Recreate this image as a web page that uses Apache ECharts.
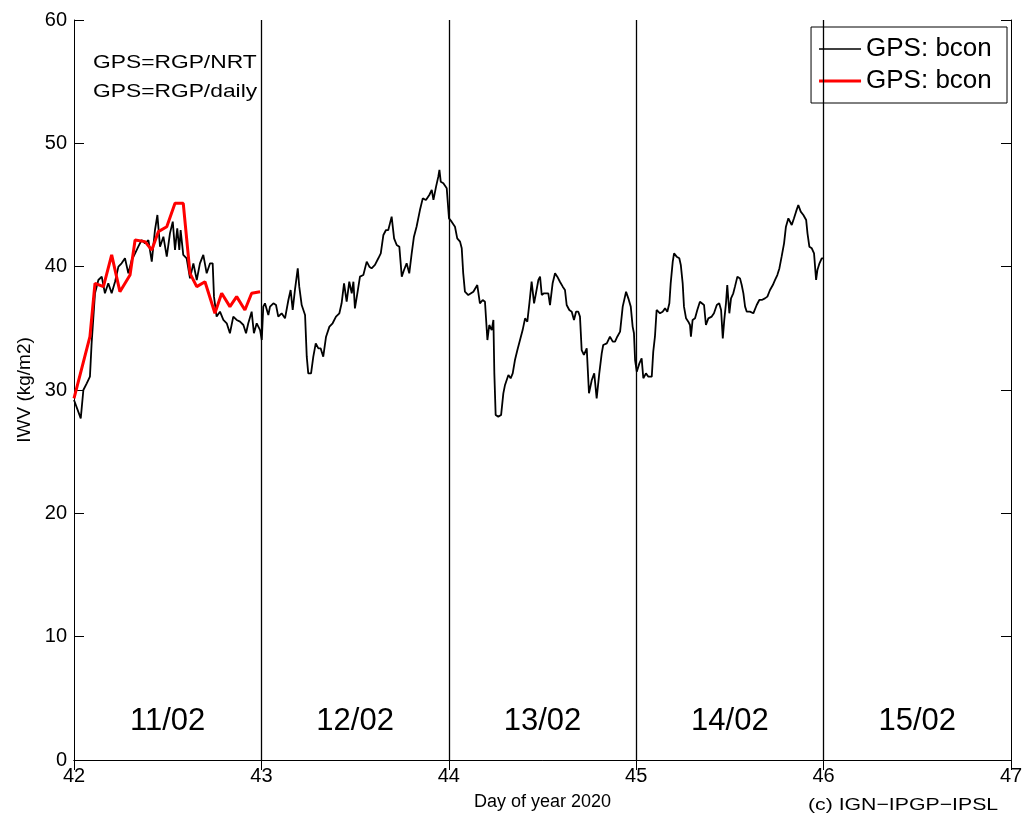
<!DOCTYPE html>
<html><head><meta charset="utf-8">
<script src="https://cdn.jsdelivr.net/npm/echarts@6/dist/echarts.min.js"></script>
<style>html,body{margin:0;padding:0;background:#fff}#c{width:1029px;height:821px}</style>
</head><body><div id="c"></div><script>
// GPS: bcon (RGP/NRT) — day of year, IWV kg/m2
const nrtDays = [
42.000,42.036,42.050,42.068,42.085,42.094,42.112,42.130,42.148,42.165,42.183,42.201,42.219,42.237,42.254,42.272,42.290,42.308,42.326,42.343,
42.361,42.379,42.397,42.415,42.432,42.445,42.459,42.477,42.495,42.512,42.527,42.539,42.551,42.562,42.569,42.583,42.601,42.619,42.637,42.655,
42.672,42.690,42.708,42.726,42.740,42.747,42.761,42.779,42.797,42.815,42.832,42.850,42.868,42.886,42.904,42.918,42.930,42.948,42.960,42.975,
42.993,43.002,43.010,43.019,43.037,43.046,43.064,43.078,43.090,43.108,43.126,43.144,43.156,43.167,43.179,43.194,43.202,43.215,43.233,43.242,
43.250,43.265,43.277,43.290,43.304,43.316,43.330,43.345,43.363,43.380,43.398,43.416,43.428,43.441,43.455,43.469,43.482,43.491,43.499,43.512,
43.526,43.544,43.562,43.576,43.588,43.606,43.624,43.637,43.651,43.665,43.677,43.686,43.695,43.708,43.722,43.736,43.749,43.761,43.775,43.789,
43.802,43.814,43.828,43.846,43.861,43.878,43.896,43.909,43.918,43.932,43.944,43.950,43.957,43.971,43.989,44.001,44.015,44.033,44.045,44.060,
44.069,44.077,44.086,44.104,44.113,44.131,44.152,44.166,44.181,44.193,44.206,44.216,44.229,44.238,44.243,44.250,44.264,44.279,44.291,44.300,
44.318,44.330,44.341,44.353,44.366,44.380,44.394,44.407,44.419,44.430,44.442,44.455,44.465,44.478,44.487,44.496,44.508,44.519,44.531,44.540,
44.554,44.567,44.579,44.593,44.608,44.620,44.629,44.643,44.656,44.668,44.679,44.691,44.700,44.709,44.721,44.736,44.748,44.763,44.776,44.789,
44.803,44.816,44.824,44.843,44.860,44.875,44.887,44.899,44.914,44.928,44.946,44.958,44.971,44.981,44.988,44.994,45.003,45.017,45.029,45.038,
45.052,45.065,45.083,45.091,45.100,45.109,45.118,45.127,45.141,45.154,45.166,45.177,45.184,45.195,45.202,45.216,45.230,45.238,45.248,45.255,
45.266,45.278,45.287,45.292,45.301,45.314,45.326,45.340,45.349,45.362,45.372,45.385,45.403,45.415,45.430,45.443,45.453,45.462,45.470,45.479,
45.486,45.497,45.506,45.518,45.527,45.540,45.554,45.563,45.572,45.581,45.590,45.607,45.625,45.643,45.657,45.670,45.687,45.700,45.714,45.729,
45.741,45.753,45.764,45.776,45.789,45.799,45.812,45.821,45.830,45.842,45.853,45.865,45.878,45.892,45.907,45.914,45.924,45.937,45.949,45.960,
45.967,45.978,45.990,45.999];
const nrtIwv = [
29.19,27.70,30.00,30.54,31.08,33.78,37.84,38.92,39.19,37.84,38.65,37.84,38.78,40.00,40.27,40.68,39.46,40.54,41.08,41.62,
42.16,41.89,42.16,40.41,42.97,44.19,41.62,42.43,40.81,42.70,43.65,41.35,43.10,41.35,42.97,40.95,40.68,39.05,40.27,38.92,
40.27,40.95,39.46,40.27,40.27,37.57,35.95,36.35,35.68,35.41,34.60,35.95,35.68,35.54,35.27,34.60,35.41,36.35,34.60,35.41,
34.86,34.05,36.76,37.03,36.08,36.76,37.03,36.89,35.95,36.22,35.81,37.30,38.11,36.49,38.11,39.86,38.38,36.89,36.08,32.70,
31.35,31.35,32.70,33.78,33.38,33.38,32.70,34.32,35.14,35.41,35.95,36.22,37.03,38.65,37.16,38.78,37.84,38.78,36.62,37.84,
39.19,39.32,40.41,40.00,39.86,40.14,40.68,41.08,42.57,42.97,42.97,43.51,44.05,42.30,41.76,41.62,39.19,39.73,40.27,39.46,
41.08,42.43,43.24,44.59,45.54,45.41,45.81,46.22,45.41,46.49,47.30,47.84,46.89,46.76,46.35,43.92,43.65,43.24,42.30,42.03,
41.49,39.46,37.97,37.70,37.70,37.97,38.51,37.03,37.30,37.16,34.05,35.27,34.86,35.68,31.35,27.97,27.84,27.97,29.73,30.41,
31.22,30.95,31.35,32.43,33.24,34.05,34.86,35.81,35.54,37.03,38.78,37.03,37.84,38.92,39.19,37.70,37.84,37.84,37.84,36.89,
38.65,39.46,39.19,38.78,38.38,38.11,36.89,36.49,36.35,35.68,36.35,36.35,35.95,33.24,32.84,33.38,29.73,30.81,31.35,29.32,
31.35,32.97,33.65,33.78,34.32,33.92,33.92,34.32,34.73,36.76,37.97,37.43,36.76,35.14,34.60,32.43,31.49,32.16,32.57,30.95,
31.35,31.08,31.08,33.11,34.32,36.49,36.62,36.22,36.35,36.62,36.35,37.03,38.65,40.41,41.08,40.81,40.68,40.14,38.65,36.76,
35.81,35.54,35.27,34.32,35.68,35.81,36.49,37.16,37.03,36.89,35.27,35.81,35.95,36.22,36.89,37.03,36.49,34.19,35.68,37.03,
38.51,36.22,37.43,37.84,38.38,39.19,39.05,38.51,37.84,36.76,36.35,36.35,36.22,36.89,37.30,37.30,37.43,37.57,38.11,38.51,
38.92,39.32,39.86,40.81,41.89,43.24,43.92,44.05,43.38,43.92,44.46,45.00,44.46,44.19,43.78,42.70,41.62,41.49,41.08,38.92,
39.73,40.27,40.68,40.68];
// GPS: bcon (RGP/daily)
const dailyDays = [42.000,42.085,42.112,42.157,42.201,42.245,42.299,42.326,42.379,42.415,42.450,42.495,42.539,42.583,42.619,42.655,42.699,42.752,42.788,42.832,42.868,42.912,42.948,42.993];
const dailyIwv  = [29.32,34.32,38.65,38.38,40.95,37.97,39.32,42.16,42.03,41.35,42.84,43.24,45.14,45.14,39.46,38.38,38.78,36.22,37.84,36.76,37.57,36.49,37.84,37.97];

const dayBoundaries = [43, 44, 45, 46];
const dateLabels = ['11/02', '12/02', '13/02', '14/02', '15/02'];
const dateLabelDays = [42.5, 43.5, 44.5, 45.5, 46.5];
const dateLabelIwv = 3.1;
const seriesNames = ['GPS: bcon', 'GPS: bcon '];
const annotations = ['GPS=RGP/NRT', 'GPS=RGP/daily'];

const FONT = "'Liberation Sans', Arial, Helvetica, sans-serif";
const chart = echarts.init(document.getElementById('c'), null, {renderer: 'canvas'});

const axisCommon = {
  type: 'value', min: 42, max: 47, interval: 1,
  axisLine: {show: true, lineStyle: {color: '#000', width: 1}},
  axisTick: {show: true, inside: true, length: 10, lineStyle: {color: '#000', width: 1}},
  splitLine: {show: false}
};
const yCommon = {
  type: 'value', min: 0, max: 60, interval: 10,
  axisLine: {show: true, lineStyle: {color: '#000', width: 1}},
  axisTick: {show: true, inside: true, length: 10, lineStyle: {color: '#000', width: 1}},
  splitLine: {show: false}
};

chart.setOption({
  animation: false,
  backgroundColor: '#fff',
  textStyle: {fontFamily: FONT},
  grid: {left: 74, right: 18, top: 20, bottom: 61, containLabel: false},
  legend: {
    show: true, orient: 'vertical', top: 27, right: 22,
    data: [
      {name: seriesNames[0], icon: 'path://M0,0L42,0L42,1.3L0,1.3Z', itemStyle: {color: '#000'}},
      {name: seriesNames[1], icon: 'path://M0,0L42,0L42,3L0,3Z', itemStyle: {color: '#ff0000'}}
    ],
    symbolKeepAspect: true,
    backgroundColor: '#fff', borderColor: '#000', borderWidth: 1, borderRadius: 0,
    padding: [9, 8, 9, 8], itemGap: 6, itemWidth: 42, itemHeight: 14,
    textStyle: {fontSize: 26, color: '#000', fontFamily: FONT}
  },
  xAxis: [
    Object.assign({}, axisCommon, {
      position: 'bottom',
      name: 'Day of year 2020', nameLocation: 'middle', nameGap: 33,
      nameTextStyle: {fontSize: 18, color: '#000', fontFamily: FONT},
      axisLabel: {show: true, fontSize: 20, color: '#000', margin: 6, fontFamily: FONT}
    }),
    Object.assign({}, axisCommon, {position: 'top', axisLabel: {show: false}})
  ],
  yAxis: [
    Object.assign({}, yCommon, {
      position: 'left',
      name: 'IWV (kg/m2)', nameLocation: 'middle', nameGap: 40,
      nameTextStyle: {fontSize: 19, color: '#000', fontFamily: FONT},
      axisLabel: {show: true, fontSize: 20, color: '#000', margin: 7, fontFamily: FONT}
    }),
    Object.assign({}, yCommon, {position: 'right', axisLabel: {show: false}})
  ],
  graphic: [
    {type: 'text', left: 93, top: 53, scaleX: 1.2, style: {text: annotations[0], fontSize: 19, fill: '#000', fontFamily: FONT}},
    {type: 'text', left: 93, top: 82, scaleX: 1.2, style: {text: annotations[1], fontSize: 19, fill: '#000', fontFamily: FONT}},
    {type: 'text', left: 808, top: 797, scaleX: 1.25, style: {text: '(c) IGN\u2212IPGP\u2212IPSL', fontSize: 17, fill: '#000', fontFamily: FONT}}
  ],
  series: [
    {
      name: seriesNames[0], type: 'line', xAxisIndex: 0, yAxisIndex: 0,
      data: nrtDays.map((d, i) => [d, nrtIwv[i]]),
      showSymbol: false, symbol: 'none',
      lineStyle: {color: '#000', width: 1.8}, itemStyle: {color: '#000'},
      z: 3,
      markLine: {
        silent: true, symbol: 'none', label: {show: false},
        lineStyle: {color: '#000', width: 1.3, type: 'solid'},
        data: dayBoundaries.map(d => ({xAxis: d}))
      }
    },
    {
      name: seriesNames[1], type: 'line', xAxisIndex: 0, yAxisIndex: 0,
      data: dailyDays.map((d, i) => [d, dailyIwv[i]]),
      showSymbol: false, symbol: 'none',
      lineStyle: {color: '#ff0000', width: 3}, itemStyle: {color: '#ff0000'},
      z: 4
    },
    {
      name: 'dates', type: 'scatter', xAxisIndex: 0, yAxisIndex: 0,
      symbolSize: 0, silent: true,
      itemStyle: {opacity: 1, color: '#000'},
      data: dateLabelDays.map((d, i) => ({value: [d, dateLabelIwv], name: dateLabels[i]})),
      label: {show: true, position: 'inside', formatter: p => p.name, fontSize: 31, color: '#000', opacity: 1, textBorderWidth: 0, fontFamily: FONT}
    }
  ]
});
</script></body></html>
